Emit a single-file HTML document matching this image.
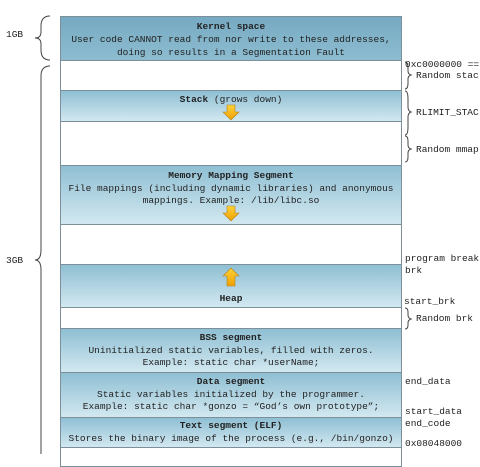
<!DOCTYPE html><html><head><style>
body{margin:0;width:480px;height:454px;background:#fff;position:relative;overflow:hidden;font-family:"Liberation Mono",monospace;font-size:9.5px;color:#222}
.s{position:absolute;left:60px;width:342px;border:1px solid #7d8f99;box-sizing:border-box;text-align:center;line-height:12.5px;background:linear-gradient(#8fbfd3,#d2e8f0)}
.w{background:#fff}
b{font-weight:bold}
.l{position:absolute;white-space:pre;line-height:11px}
</style></head><body>
<div class="s" style="top:16px;height:45px;background:linear-gradient(#76aac2,#8dbcd0);padding-top:3px;line-height:13px"><b>Kernel space</b><br>User code CANNOT read from nor write to these addresses,<br>doing so results in a Segmentation Fault</div>
<div class="s w" style="top:60px;height:31px"></div>
<div class="s" style="top:90px;height:32px;padding-top:3px"><b>Stack</b> (grows down)</div>
<div class="s w" style="top:121px;height:45px"></div>
<div class="s" style="top:165px;height:60px;padding-top:4px"><b>Memory Mapping Segment</b><br>File mappings (including dynamic libraries) and anonymous<br>mappings. Example: /lib/libc.so</div>
<div class="s w" style="top:224px;height:41px"></div>
<div class="s" style="top:264px;height:44px;padding-top:28px"><b>Heap</b></div>
<div class="s w" style="top:307px;height:22px"></div>
<div class="s" style="top:328px;height:45px;padding-top:3px"><b>BSS segment</b><br>Uninitialized static variables, filled with zeros.<br>Example: static char *userName;</div>
<div class="s" style="top:372px;height:46px;padding-top:3px"><b>Data segment</b><br>Static variables initialized by the programmer.<br>Example: static char *gonzo = “God’s own prototype”;</div>
<div class="s" style="top:417px;height:31px;padding-top:2px"><b>Text segment (ELF)</b><br>Stores the binary image of the process (e.g., /bin/gonzo)</div>
<div class="s w" style="top:447px;height:20px"></div>
<svg width="480" height="454" style="position:absolute;left:0;top:0">
<defs><linearGradient id="g" x1="0" y1="0" x2="0" y2="1"><stop offset="0" stop-color="#ffd23a"/><stop offset="1" stop-color="#f0a000"/></linearGradient></defs>
<path d="M227 105h8v7h4l-8 8-8-8h4z" fill="url(#g)" stroke="#b08020" stroke-width=".6"/>
<path d="M227 206h8v7h4l-8 8-8-8h4z" fill="url(#g)" stroke="#b08020" stroke-width=".6"/>
<path d="M227 286h8v-10h4l-8-8-8 8h4z" fill="url(#g)" stroke="#b08020" stroke-width=".6"/>
<g fill="none" stroke="#444" stroke-width="1">
<path d="M50 16q-9 0-9 10v6q0 6-6 6q6 0 6 6v6q0 10 9 10"/>
<path d="M50 66q-9 0-9 10v174q0 10-6 10q6 0 6 10v184"/>
<path d="M405 62q3 0 3 6v3q0 3 3 4q-3 1-3 4v4q0 6-3 6"/>
<path d="M405 91q3 0 3 8v8q0 4 3 5q-3 1-3 5v10q0 8-3 8"/>
<path d="M405 136q3 0 3 5v4q0 3 3 4q-3 1-3 4v4q0 5-3 5"/>
<path d="M405 308q3 0 3 4v3q0 3 3 4q-3 1-3 4v2q0 4-3 4"/>
</g></svg>
<div class="l" style="left:6px;top:29px">1GB</div>
<div class="l" style="left:6px;top:255px">3GB</div>
<div class="l" style="left:405px;top:59px">0xc0000000 ==</div>
<div class="l" style="left:416px;top:70px">Random stac</div>
<div class="l" style="left:416px;top:107px">RLIMIT_STAC</div>
<div class="l" style="left:416px;top:144px">Random mmap</div>
<div class="l" style="left:405px;top:253px">program break</div>
<div class="l" style="left:405px;top:265px">brk</div>
<div class="l" style="left:404px;top:296px">start_brk</div>
<div class="l" style="left:416px;top:313px">Random brk</div>
<div class="l" style="left:405px;top:376px">end_data</div>
<div class="l" style="left:405px;top:406px">start_data</div>
<div class="l" style="left:405px;top:418px">end_code</div>
<div class="l" style="left:405px;top:438px">0x08048000</div>
</body></html>
